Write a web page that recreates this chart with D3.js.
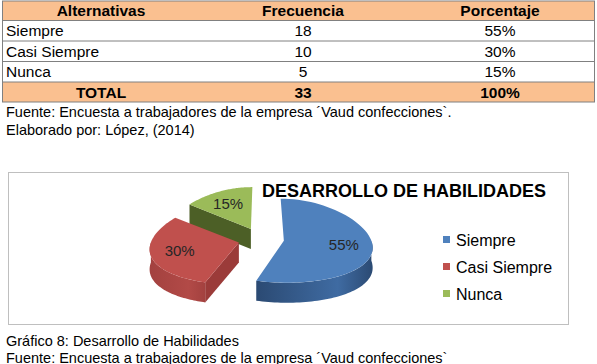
<!DOCTYPE html>
<html><head><meta charset="utf-8">
<script src="https://cdn.jsdelivr.net/npm/d3@7"></script>
<style>
html,body{margin:0;padding:0;background:#fff;}
svg{display:block;}
text{font-family:"Liberation Sans",Arial,sans-serif;}
</style></head>
<body>
<svg id="c" width="597" height="364"></svg>
<script>
// ---- data ----
const headers = ["Alternativas", "Frecuencia", "Porcentaje"];
const categories = ["Siempre", "Casi Siempre", "Nunca"];
const frequencies = [18, 10, 5];
const percentLabels = ["55%", "30%", "15%"];
const pieValues = [55, 30, 15];
const totalRow = ["TOTAL", "33", "100%"];
const notesTop = ["Fuente: Encuesta a trabajadores de la empresa ´Vaud confecciones`.", "Elaborado por: López, (2014)"];
const chartTitle = "DESARROLLO DE HABILIDADES";
const notesBottom = ["Gráfico 8: Desarrollo de Habilidades", "Fuente: Encuesta a trabajadores de la empresa ´Vaud confecciones`"];

const svg = d3.select("#c");

// ---- table ----
const tX0 = 2, tX1 = 595;
const colX = d3.scaleOrdinal().domain(headers).range([101, 303, 500]);
const rowLines = [1, 20.5, 41, 61.5, 82, 102];
const orange = "#FAC090";
svg.append("rect").attr("x", tX0).attr("y", rowLines[0]).attr("width", tX1 - tX0).attr("height", rowLines[1] - rowLines[0]).attr("fill", orange);
svg.append("rect").attr("x", tX0).attr("y", rowLines[4]).attr("width", tX1 - tX0).attr("height", rowLines[5] - rowLines[4]).attr("fill", orange);
rowLines.forEach(y => svg.append("line").attr("x1", tX0).attr("x2", tX1).attr("y1", y).attr("y2", y).attr("stroke", "#808080").attr("stroke-width", 1));
svg.append("line").attr("x1", tX0 + 0.5).attr("x2", tX0 + 0.5).attr("y1", rowLines[0]).attr("y2", rowLines[5]).attr("stroke", "#808080");
svg.append("line").attr("x1", tX1 - 0.5).attr("x2", tX1 - 0.5).attr("y1", rowLines[0]).attr("y2", rowLines[5]).attr("stroke", "#808080");

const fs = 15.5;
headers.forEach(h => svg.append("text").attr("x", colX(h)).attr("y", rowLines[0] + 15).attr("text-anchor", "middle")
  .attr("font-size", fs).attr("font-weight", "bold").attr("fill", "#000").text(h));
categories.forEach((c, i) => {
  const y = rowLines[i + 1] + 15.5;
  svg.append("text").attr("x", 6).attr("y", y).attr("font-size", fs).text(c);
  svg.append("text").attr("x", colX(headers[1])).attr("y", y).attr("text-anchor", "middle").attr("font-size", fs).text(frequencies[i]);
  svg.append("text").attr("x", colX(headers[2])).attr("y", y).attr("text-anchor", "middle").attr("font-size", fs).text(percentLabels[i]);
});
totalRow.forEach((t, j) => svg.append("text").attr("x", colX(headers[j])).attr("y", rowLines[4] + 15.5).attr("text-anchor", "middle")
  .attr("font-size", fs).attr("font-weight", "bold").text(t));

notesTop.forEach((t, i) => svg.append("text").attr("x", 6).attr("y", 117 + i * 17.5).attr("font-size", 14.5).text(t));

// ---- chart box ----
svg.append("rect").attr("x", 8.5).attr("y", 172.5).attr("width", 560).attr("height", 152).attr("fill", "#fff").attr("stroke", "#BFBFBF");

svg.append("text").attr("x", 404).attr("y", 197).attr("text-anchor", "middle").attr("font-size", 18).attr("font-weight", "bold").text(chartTitle);

// ---- 3D pie ----
const cx = 261, cy = 239, rx = 87, ry = 42, depth = 20, explode = 23, k = ry / rx, persp = 0.14;
const topCol = ["#4F81BD", "#C0504D", "#9BBB59"];
const sideA = ["#2B4A73", "#A3413F", "#4E6128"];
const sideB = ["#3F6BA2", "#B24A47", "#55692C"];
const cutCol = ["#2F5282", "#9B3B39", "#4C5F26"];
const pie = d3.pie().sort(null).value(d => d)(pieValues);
// simple perspective: far (upper) points are drawn narrower
const proj = (x, y) => [cx + (x - cx) * (1 + persp * (y - cy) / ry), y];

const defs = svg.append("defs");
pie.forEach((p, i) => {
  const g = defs.append("linearGradient").attr("id", "w" + i).attr("x1", 0).attr("x2", 1).attr("y1", 0).attr("y2", 0);
  g.append("stop").attr("offset", "0%").attr("stop-color", sideA[i]);
  g.append("stop").attr("offset", "70%").attr("stop-color", sideB[i]);
  g.append("stop").attr("offset", "100%").attr("stop-color", sideA[i]);
});

const line = d3.line();
const N = 60;
const order = [2, 1, 0];
order.forEach(i => {
  const p = pie[i];
  const mid = (p.startAngle + p.endAngle) / 2;
  const ox = cx + explode * Math.sin(mid), oy = cy - explode * k * Math.cos(mid);
  const P = (a, dz = 0) => { const q = proj(ox + rx * Math.sin(a), oy - ry * Math.cos(a)); return [q[0], q[1] + dz]; };
  const A = (dz = 0) => { const q = proj(ox, oy); return [q[0], q[1] + dz]; };
  const arcPts = (a0, a1, dz) => d3.range(N + 1).map(j => P(a0 + (a1 - a0) * j / N, dz));
  const g = svg.append("g");
  // cut faces
  [[p.startAngle, Math.sin(p.startAngle) < -1e-6], [p.endAngle, Math.sin(p.endAngle) > 1e-6]].forEach(([a, vis]) => {
    if (!vis) return;
    g.append("path").attr("d", line([A(), P(a), P(a, depth), A(depth)]) + "Z").attr("fill", cutCol[i]);
  });
  // outer wall
  const s = Math.max(p.startAngle, Math.PI / 2), e = Math.min(p.endAngle, 3 * Math.PI / 2);
  if (e > s) {
    const pts = arcPts(s, e, 0).concat(arcPts(e, s, depth));
    g.append("path").attr("d", line(pts) + "Z").attr("fill", `url(#w${i})`);
  }
  // top face
  g.append("path").attr("d", line([A()].concat(arcPts(p.startAngle, p.endAngle, 0))) + "Z").attr("fill", topCol[i]);
  // label
  const lr = 0.68;
  const lp = proj(ox + rx * lr * Math.sin(mid), oy - ry * lr * Math.cos(mid));
  g.append("text").attr("x", lp[0]).attr("y", lp[1] + 5)
    .attr("text-anchor", "middle").attr("font-size", 15).attr("fill", "#262626").text(percentLabels[i]);
});

// ---- legend ----
categories.forEach((c, i) => {
  const y = 240 + i * 27;
  svg.append("rect").attr("x", 443).attr("y", y - 4).attr("width", 7).attr("height", 7).attr("fill", topCol[i]);
  svg.append("text").attr("x", 456).attr("y", y + 5.5).attr("font-size", 16).attr("fill", "#000").text(c);
});

notesBottom.forEach((t, i) => svg.append("text").attr("x", 6).attr("y", 346 + i * 16.5).attr("font-size", 14.5).text(t));
</script>
</body></html>
